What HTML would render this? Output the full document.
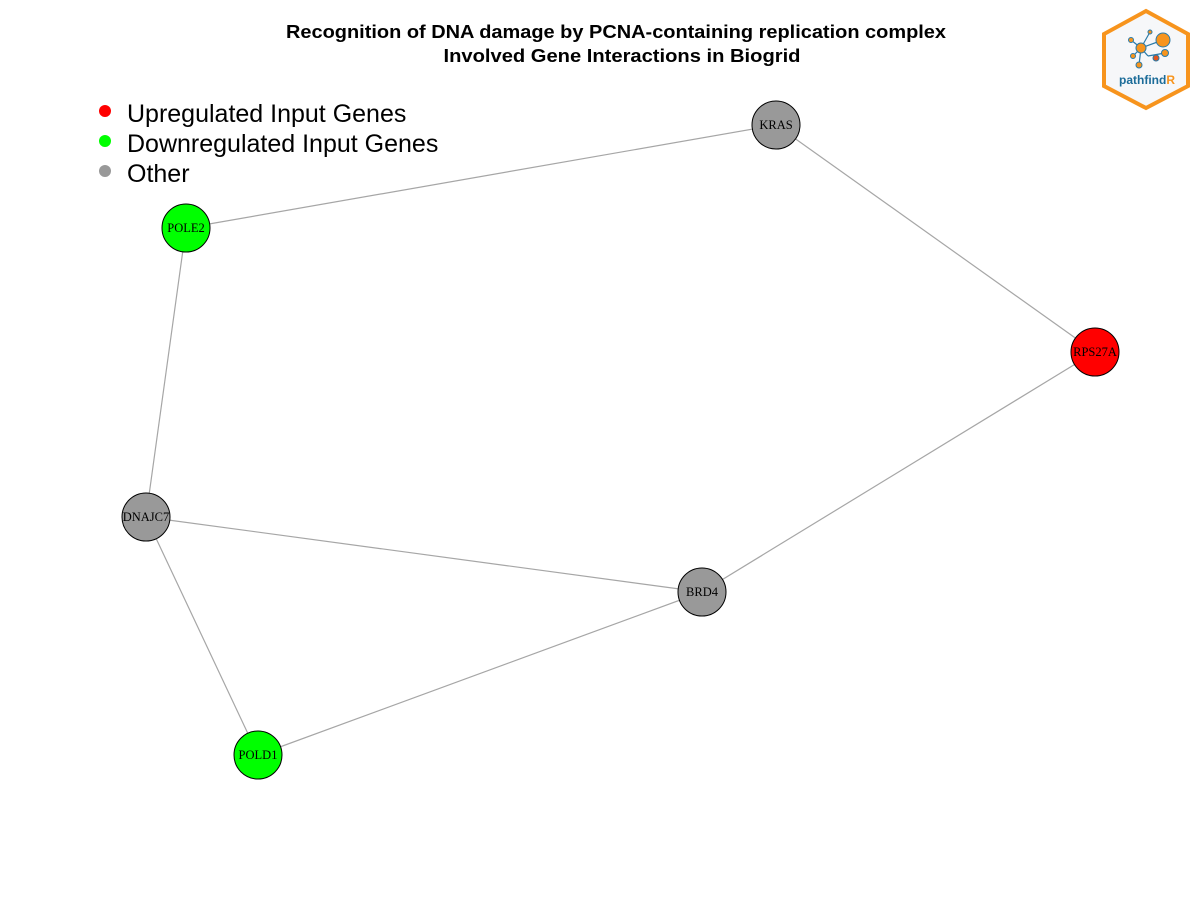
<!DOCTYPE html>
<html><head><meta charset="utf-8"><style>
body{margin:0;background:#fff;width:1200px;height:900px;overflow:hidden}
svg{display:block}
</style></head><body>
<svg id="chart" width="1200" height="900">
<text x="616" y="38" text-anchor="middle" font-family="Liberation Sans, sans-serif" font-weight="bold" font-size="18" textLength="660" lengthAdjust="spacingAndGlyphs">Recognition of DNA damage by PCNA-containing replication complex</text>
<text x="622" y="62" text-anchor="middle" font-family="Liberation Sans, sans-serif" font-weight="bold" font-size="18" textLength="357" lengthAdjust="spacingAndGlyphs">Involved Gene Interactions in Biogrid</text>
<g font-family="Liberation Sans, sans-serif" font-size="25">
<circle cx="105" cy="111" r="6" fill="#ff0000"/>
<text x="127" y="122">Upregulated Input Genes</text>
<circle cx="105" cy="141" r="6" fill="#00ff00"/>
<text x="127" y="152">Downregulated Input Genes</text>
<circle cx="105" cy="171" r="6" fill="#999"/>
<text x="127" y="182">Other</text>
</g>
<g>
<polygon points="1146,11 1188,34 1188,86 1146,108 1104,86 1104,34" fill="#f6f7f9" stroke="#f7941d" stroke-width="4"/>
<g stroke="#2a7aa8" stroke-width="1.2">
<line x1="1141" y1="48" x2="1163" y2="40"/><line x1="1141" y1="48" x2="1131" y2="40"/><line x1="1141" y1="48" x2="1133" y2="56"/><line x1="1141" y1="48" x2="1148" y2="56"/><line x1="1148" y1="56" x2="1165" y2="53"/><line x1="1141" y1="48" x2="1139" y2="65"/><line x1="1141" y1="48" x2="1150" y2="32"/>
</g>
<circle cx="1163" cy="40" r="7" fill="#f7941d" stroke="#2a7aa8"/>
<circle cx="1141" cy="48" r="5" fill="#f7941d" stroke="#2a7aa8"/>
<circle cx="1131" cy="40" r="2.5" fill="#f7941d" stroke="#2a7aa8"/>
<circle cx="1133" cy="56" r="2.5" fill="#f7941d" stroke="#2a7aa8"/>
<circle cx="1165" cy="53" r="3.5" fill="#f7941d" stroke="#2a7aa8"/>
<circle cx="1156" cy="58" r="3" fill="#e2541d" stroke="#2a7aa8"/>
<circle cx="1139" cy="65" r="3" fill="#f7941d" stroke="#2a7aa8"/>
<circle cx="1150" cy="32" r="2" fill="#f7941d" stroke="#2a7aa8"/>
<text x="1119" y="84" font-family="Liberation Sans, sans-serif" font-weight="bold" font-size="12" fill="#1c6c99">pathfind<tspan fill="#f7941d">R</tspan></text>
</g>
<g id="edges"></g>
<g id="nodes"></g>
</svg>
<script>
const geneNames = ["KRAS","POLE2","RPS27A","DNAJC7","BRD4","POLD1"];
const geneX = [776,186,1095,146,702,258];
const geneY = [125,228,352,517,592,755];
const geneType = ["other","down","up","other","other","down"];
const edgeFrom = ["KRAS","KRAS","POLE2","DNAJC7","DNAJC7","BRD4","BRD4"];
const edgeTo = ["POLE2","RPS27A","DNAJC7","BRD4","POLD1","RPS27A","POLD1"];
const colors = {up:"#ff0000",down:"#00ff00",other:"#999999"};
const ns = "http://www.w3.org/2000/svg";
const eg = document.getElementById("edges"), ng = document.getElementById("nodes");
const idx = n => geneNames.indexOf(n);
edgeFrom.forEach((f,i)=>{
  const t = edgeTo[i];
  const l = document.createElementNS(ns,"line");
  l.setAttribute("x1",geneX[idx(f)]);l.setAttribute("y1",geneY[idx(f)]);
  l.setAttribute("x2",geneX[idx(t)]);l.setAttribute("y2",geneY[idx(t)]);
  l.setAttribute("stroke","#a6a6a6");l.setAttribute("stroke-width","1.2");
  
  
  eg.appendChild(l);
});
geneNames.forEach((n,i)=>{
  const c = document.createElementNS(ns,"circle");
  c.setAttribute("cx",geneX[i]);c.setAttribute("cy",geneY[i]);c.setAttribute("r",24);
  c.setAttribute("fill",colors[geneType[i]]);c.setAttribute("stroke","#000");
  
  
  ng.appendChild(c);
  const t = document.createElementNS(ns,"text");
  t.setAttribute("x",geneX[i]);t.setAttribute("y",geneY[i]+4);
  t.setAttribute("text-anchor","middle");t.setAttribute("font-family","Liberation Serif, serif");
  t.setAttribute("font-size","12.5");t.textContent=n;
  
  
  ng.appendChild(t);
});
</script>
</body></html>
